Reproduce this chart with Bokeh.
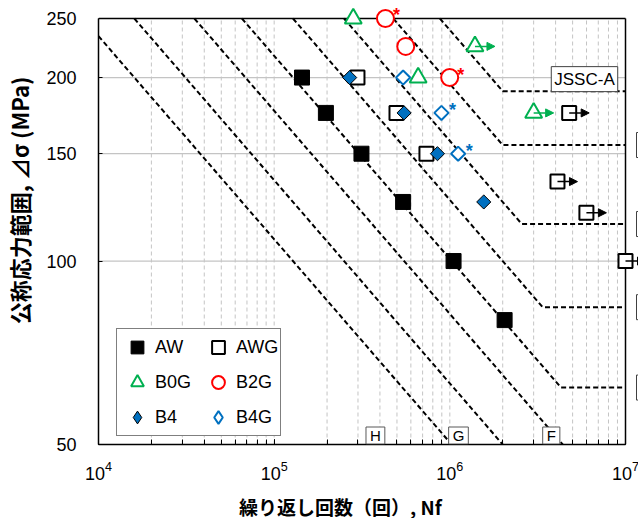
import math
from bokeh.plotting import figure
from bokeh.models import (Range1d, FixedTicker, BasicTickFormatter, Label, Legend,
                          LegendItem, Arrow, NormalHead, ColumnDataSource)
from bokeh.core.properties import value
from bokeh.embed import file_html
from bokeh.resources import INLINE

# ---------------- data ----------------
aw_n = [1.44e5, 1.97e5, 3.14e5, 5.42e5, 1.05e6, 2.05e6]
aw_s = [200, 175, 150, 125, 100, 80]

awg_n = [2.98e5, 4.97e5, 7.36e5, 4.78e6, 4.10e6, 5.99e6, 1.0e7]
awg_s = [200, 175, 150, 175, 135, 120, 100]
awg_runout = [False, False, False, True, True, True, True]

b0g_n = [2.82e5, 6.60e5, 1.39e6, 3.00e6]
b0g_s = [250, 200, 225, 175]
b0g_runout = [False, False, True, True]

b2g_n = [4.30e5, 5.61e5, 9.98e5]
b2g_s = [250, 225, 200]
b2g_star = [True, False, True]

b4_n = [2.69e5, 5.49e5, 8.50e5, 1.56e6]
b4_s = [200, 175, 150, 125]

b4g_n = [5.42e5, 8.96e5, 1.115e6]
b4g_s = [200, 175, 150]
b4g_star = [False, True, True]

# JSSC fatigue design categories: strength at 2e6 cycles and cut-off limit (MPa)
jssc_cat = ["A", "B", "C", "D", "E", "F", "G", "H"]
jssc_s2m = [190, 155, 125, 100, 80, 65, 50, 40]
jssc_cut = [190, 155, 115, 84, 62, 46, 32, 23]

y_ticks = [50, 100, 150, 200, 250]
h_grid = [100, 150, 200]

x_title = "繰り返し回数（回）, Nf"
y_title = "公称応力範囲, ⊿σ (MPa)"

# ---------------- figure ----------------
XMIN, XMAX, YMIN, YMAX = 1e4, 1e7, 50, 250
p = figure(frame_width=541, frame_height=444, x_axis_type="log", y_axis_type="log",
           x_range=Range1d(XMIN, XMAX * 10 ** (14 / 175.7)),
           y_range=Range1d(YMIN, YMAX * 10 ** (18 / 609.5)),
           output_backend="svg", toolbar_location=None,
           min_border_left=97, min_border_right=0, min_border_top=0, min_border_bottom=74)
p.outline_line_color = None
p.xgrid.visible = False
p.ygrid.visible = False
p.background_fill_color = "white"

# grid lines
vx = []
for k in range(4, 7):
    for m in range(1, 10):
        v = m * 10 ** k
        if XMIN < v < XMAX:
            vx.append(v)
p.segment(x0=vx, y0=[YMIN] * len(vx), x1=vx, y1=[YMAX] * len(vx),
          line_color="#C4C4C4", line_width=1, line_dash="4 3")
p.segment(x0=[XMIN] * len(h_grid), y0=h_grid, x1=[XMAX] * len(h_grid), y1=h_grid,
          line_color="#C4C4C4", line_width=1.2)

# JSSC design curves (m = 3)
xs, ys = [], []
for s2, sc in zip(jssc_s2m, jssc_cut):
    n_top = 2e6 * (s2 / YMAX) ** 3
    if n_top < XMIN:
        x0, y0 = XMIN, s2 * (2e6 / XMIN) ** (1 / 3)
    else:
        x0, y0 = n_top, YMAX
    n_knee = 2e6 * (s2 / sc) ** 3
    xs.append([x0, n_knee, XMAX])
    ys.append([y0, sc, sc])
p.multi_line(xs, ys, line_color="black", line_width=2, line_dash="5 3")

# top and right frame borders
p.segment(x0=[XMIN, XMAX], y0=[YMAX, YMIN], x1=[XMAX, XMAX], y1=[YMAX, YMAX],
          line_color="black", line_width=1.5)

# ---------------- markers ----------------
r_aw = p.scatter(aw_n, aw_s, marker="square", size=15, fill_color="black", line_color="black")
r_awg = p.scatter(awg_n, awg_s, marker="square", size=14, fill_color="white",
                  line_color="black", line_width=2)
p.scatter(b4_n, b4_s, marker="square", angle=math.pi / 4, size=10,
          fill_color="#0070C0", line_color="black", line_width=1)
p.scatter(b4g_n, b4g_s, marker="square", angle=math.pi / 4, size=10,
          fill_color="white", line_color="#0070C0", line_width=2)
r_b0g = p.scatter(b0g_n, b0g_s, marker="triangle", size=17, fill_color="white",
                  line_color="#00B050", line_width=2)
r_b2g = p.scatter(b2g_n, b2g_s, marker="circle", size=17, fill_color="white",
                  line_color="#FF0000", line_width=2)
# hidden diamond renderers that only supply the legend symbols
r_b4_leg = p.scatter(b4_n, b4_s, marker="diamond", size=10, fill_color="#0070C0",
                     line_color="black", line_width=1, visible=False)
r_b4g_leg = p.scatter(b4g_n, b4g_s, marker="diamond", size=10, fill_color="white",
                      line_color="#0070C0", line_width=2, visible=False)

# run-out arrows
def arrows(ns, ss, flags, color):
    x0 = [n for n, f in zip(ns, flags) if f]
    y0 = [s for s, f in zip(ss, flags) if f]
    x1 = [n * 10 ** (20 / 175.7) for n in x0]
    src = ColumnDataSource(dict(x0=x0, y0=y0, x1=x1, y1=y0))
    p.add_layout(Arrow(end=NormalHead(size=8, fill_color=color, line_color=color),
                       x_start="x0", y_start="y0", x_end="x1", y_end="y1",
                       source=src, line_color=color, line_width=1.5))

arrows(awg_n, awg_s, awg_runout, "black")
arrows(b0g_n, b0g_s, b0g_runout, "#00B050")

# asterisks
def stars(ns, ss, flags, color):
    x = [n for n, f in zip(ns, flags) if f]
    y = [s for s, f in zip(ss, flags) if f]
    p.text(x, y, text=["*"] * len(x), text_color=color, text_font=value("Liberation Sans"),
           text_font_size="18px", text_font_style="bold", text_align="center",
           text_baseline="middle", x_offset=11, y_offset=-3)

stars(b2g_n, b2g_s, b2g_star, "#FF0000")
stars(b4g_n, b4g_s, b4g_star, "#0070C0")

# ---------------- axes ----------------
xa = p.xaxis[0]
xa.bounds = (XMIN, XMAX)
xa.axis_line_color = "black"
xa.axis_line_width = 1.5
xa.major_tick_in = 5
xa.major_tick_out = 0
xa.minor_tick_in = 5
xa.minor_tick_out = 0
xa.major_tick_line_color = "black"
xa.minor_tick_line_color = "black"
xa.major_label_standoff = 16
xa.major_label_text_font = "Liberation Sans"
xa.major_label_text_font_size = "18px"
xa.major_label_text_color = "black"
xa.axis_label = x_title + "\u3000" * 3
xa.axis_label_standoff = 10
xa.axis_label_text_font = "Noto Sans CJK JP"
xa.axis_label_text_font_style = "bold"
xa.axis_label_text_font_size = "19px"
xa.axis_label_text_color = "black"

ya = p.yaxis[0]
ya.bounds = (YMIN, YMAX)
ya.ticker = FixedTicker(ticks=y_ticks, minor_ticks=[])
ya.formatter = BasicTickFormatter()
ya.axis_line_color = "black"
ya.axis_line_width = 1.5
ya.major_tick_in = 4
ya.major_tick_out = 0
ya.minor_tick_line_color = None
ya.major_label_standoff = 22
ya.major_label_text_font = "Liberation Sans"
ya.major_label_text_font_size = "18px"
ya.major_label_text_color = "black"
ya.axis_label = "\u3000" * 2 + y_title
ya.axis_label_standoff = 8
ya.axis_label_text_font = "Noto Sans CJK JP"
ya.axis_label_text_font_style = "bold"
ya.axis_label_text_font_size = "22px"
ya.axis_label_text_color = "black"

# ---------------- category labels ----------------
box_common = dict(text_font="Liberation Sans", text_color="black",
                  background_fill_color="white", text_baseline="middle")
p.add_layout(Label(x=XMAX, y=jssc_cut[0], x_offset=-41, y_offset=12, text="JSSC-" + jssc_cat[0],
                   text_font_size="17px", text_align="center", border_line_color="#404040",
                   padding=3, **box_common))
for c, sc in zip(jssc_cat[1:5], jssc_cut[1:5]):
    p.add_layout(Label(x=XMAX, y=sc, x_offset=11, text="JSSC-" + c, text_font_size="17px",
                       text_align="left", border_line_color="#404040", padding=3, **box_common))
bottom_pos = {"H": 3.77e5, "G": 1.12e6, "F": 3.78e6}
for c in ["H", "G", "F"]:
    p.add_layout(Label(x=bottom_pos[c], y=YMIN, y_offset=9, text=c, text_font_size="15px",
                       text_align="center", border_line_color="#595959", padding=(4, 0),
                       **box_common))

# ---------------- legend ----------------
legend = Legend(items=[LegendItem(label="AW", renderers=[r_aw]),
                       LegendItem(label="B0G", renderers=[r_b0g]),
                       LegendItem(label="B4", renderers=[r_b4_leg]),
                       LegendItem(label="AWG", renderers=[r_awg]),
                       LegendItem(label="B2G", renderers=[r_b2g]),
                       LegendItem(label="B4G", renderers=[r_b4g_leg])],
                location=(18, 8), orientation="vertical", nrows=3,
                border_line_color="black", border_line_width=1,
                background_fill_color="white", background_fill_alpha=1,
                inactive_fill_alpha=0,
                label_text_font="Liberation Sans", label_text_font_size="18px",
                label_text_color="black",
                glyph_width=36, glyph_height=32, label_height=32, label_width=42,
                label_standoff=0, spacing=3, padding=2, margin=0)
p.add_layout(legend)

open("out.html", "w").write(file_html(p, INLINE))
